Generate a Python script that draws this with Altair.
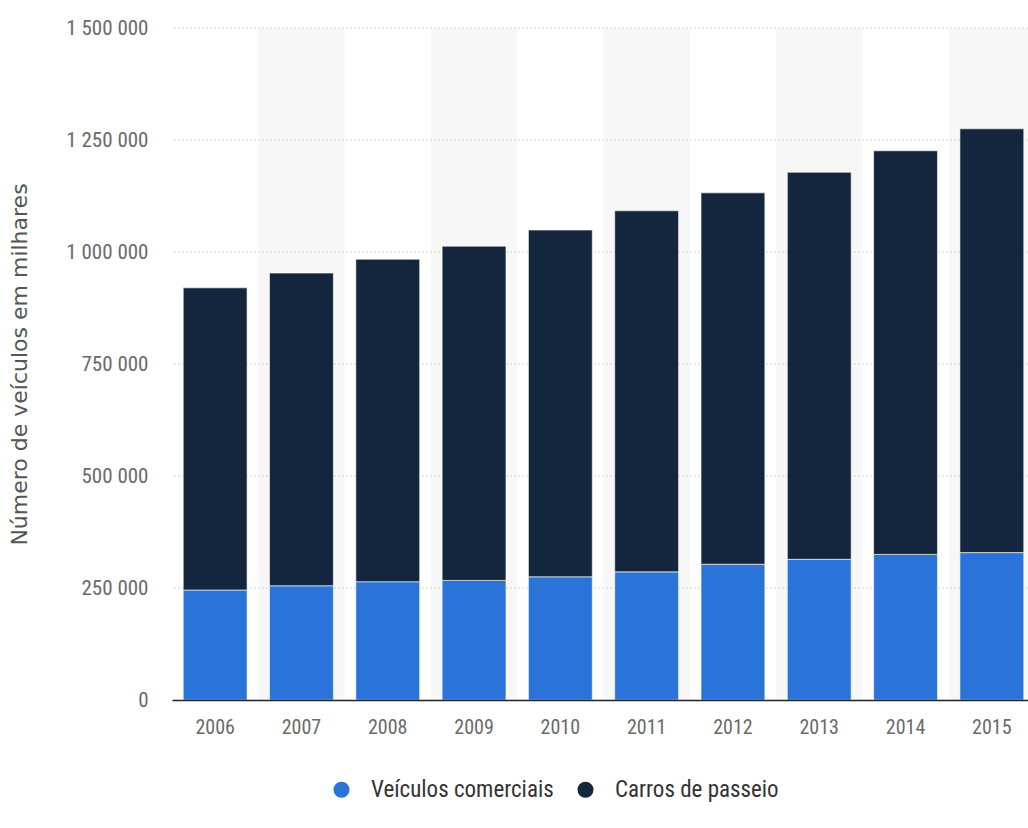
import altair as alt
import pandas as pd

years = ["2006", "2007", "2008", "2009", "2010", "2011", "2012", "2013", "2014", "2015"]
comerciais = [245500, 255000, 264000, 267000, 275000, 286000, 303000, 314000, 325000, 329000]
passeio = [674500, 698000, 720000, 746000, 774000, 806000, 829000, 864000, 901000, 946000]
series_names = ["Veículos comerciais", "Carros de passeio"]
series_colors = ["#2a74d9", "#13263d"]
y_ticks = [0, 250000, 500000, 750000, 1000000, 1250000, 1500000]
shaded_years = [y for i, y in enumerate(years) if i % 2 == 1]

rows = []
for y, c, p in zip(years, comerciais, passeio):
    rows.append({"year": y, "serie": series_names[0], "valor": c, "ordem": 0})
    rows.append({"year": y, "serie": series_names[1], "valor": p, "ordem": 1})
df = pd.DataFrame(rows)
bg_df = pd.DataFrame({"year": shaded_years})
grid_df = pd.DataFrame({"valor": y_ticks[1:]})

LEFT, TOP = 172, 28
W, H = 856, 672
X_RANGE = 863
LABEL_FONT = "Liberation Sans Narrow, Roboto Condensed, Roboto, sans-serif"
Y_TITLE = "Número de veículos em milhares"

xscale = alt.Scale(domain=years, paddingInner=0, paddingOuter=0, range=[0, X_RANGE])
yscale = alt.Scale(domain=[0, 1500000], nice=False)

x_axis = alt.Axis(
    labelAngle=0,
    labelFont=LABEL_FONT,
    labelFontSize=20,
    labelColor="#6a6a6a",
    labelPadding=17,
    ticks=False,
    domainColor="#222222",
    domainWidth=1.5,
)
y_axis = alt.Axis(
    values=y_ticks,
    grid=False,
    domain=False,
    ticks=False,
    labelExpr="replace(format(datum.value, ','), /,/g, ' ')",
    labelFont=LABEL_FONT,
    labelFontSize=21,
    labelColor="#6a6a6a",
    labelPadding=24,
    titleFont="DejaVu Sans, Verdana, sans-serif",
    titleFontSize=22,
    titleFontWeight="normal",
    titleColor="#555555",
    titlePadding=34,
)

bg = alt.Chart(bg_df).mark_rect(color="#f7f7f7").encode(
    x=alt.X("year:N", scale=xscale, title=None, axis=x_axis),
    y=alt.value(0),
    y2=alt.value(H),
)

grid = alt.Chart(grid_df).mark_rule(color="#d0d0d0", strokeDash=[2, 2], strokeWidth=1).encode(
    y=alt.Y("valor:Q", scale=yscale, title=Y_TITLE, axis=y_axis)
)

bars = alt.Chart(df).mark_bar(width=alt.RelativeBandSize(0.74), stroke="white", strokeWidth=0.6).encode(
    x=alt.X("year:N", scale=xscale, title=None, axis=x_axis),
    y=alt.Y("valor:Q", stack="zero", scale=yscale, title=Y_TITLE, axis=y_axis),
    color=alt.Color(
        "serie:N",
        scale=alt.Scale(domain=series_names, range=series_colors),
        legend=alt.Legend(
            title=None,
            orient="none",
            legendX=158,
            legendY=750,
            direction="horizontal",
            symbolType="circle",
            symbolSize=256,
            symbolStrokeWidth=0,
            labelFont=LABEL_FONT,
            labelFontSize=23,
            labelColor="#333333",
            labelLimit=0,
            columnPadding=20,
            labelOffset=18,
        ),
    ),
    order=alt.Order("ordem:Q"),
)

chart = alt.layer(bg, grid, bars).properties(
    width=W,
    height=H,
    background="white",
    autosize=alt.AutoSizeParams(type="none"),
    padding={"top": TOP, "left": LEFT, "right": 0, "bottom": 828 - TOP - H},
).configure_view(stroke=None)

chart.save("out.html", embed_options={"renderer": "svg", "actions": False})
